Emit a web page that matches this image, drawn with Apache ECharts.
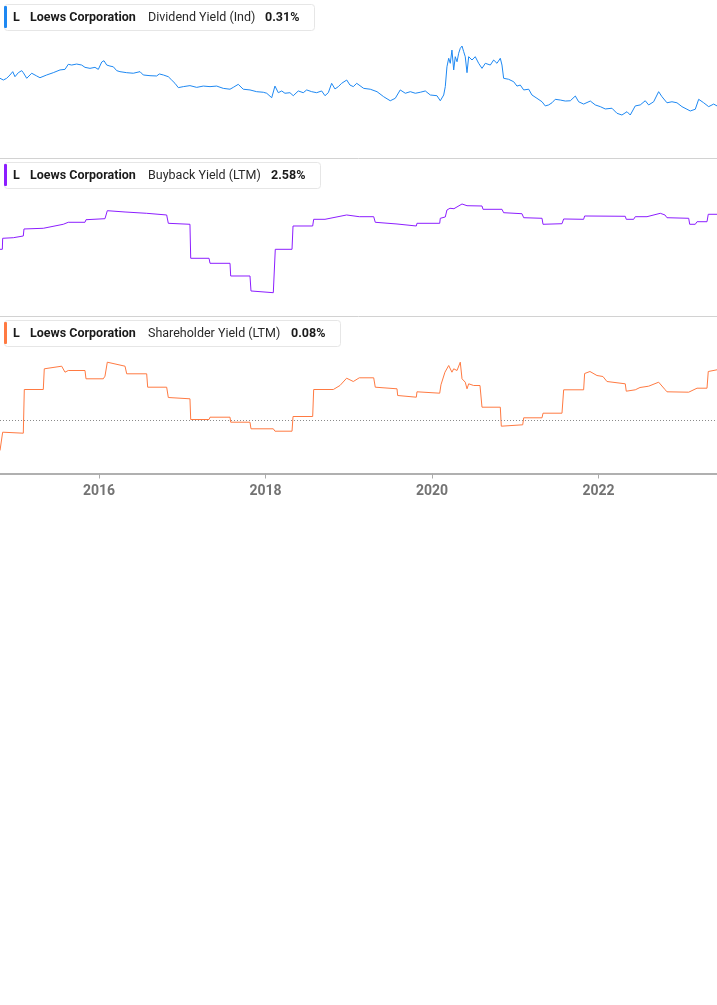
<!DOCTYPE html>
<html>
<head>
<meta charset="utf-8">
<script src="https://cdn.jsdelivr.net/npm/echarts@6/dist/echarts.min.js"></script>
<style>
html,body{margin:0;padding:0;background:#fff;}
#chart{width:717px;height:1005px;}
</style>
</head>
<body>
<div id="chart"></div>
<script>
// ---------- DATA ----------
const xStart = 2014.81, xEnd = 2023.423;
const yearTicks = [2016, 2018, 2020, 2022];

const company = "Loews Corporation";
const ticker = "L";
const metricNames = ["Dividend Yield (Ind)", "Buyback Yield (LTM)", "Shareholder Yield (LTM)"];
const latestValues = ["0.31%", "2.58%", "0.08%"];

const divYears = [2014.810,2014.850,2014.890,2014.930,2014.963,2014.990,2015.030,2015.071,2015.090,2015.131,2015.191,2015.251,2015.290,2015.371,2015.450,2015.531,2015.591,2015.630,2015.671,2015.731,2015.791,2015.831,2015.891,2015.951,2015.991,2016.032,2016.059,2016.092,2016.131,2016.171,2016.212,2016.251,2016.332,2016.411,2016.492,2016.531,2016.612,2016.692,2016.724,2016.772,2016.832,2016.872,2016.912,2016.952,2017.012,2017.092,2017.173,2017.252,2017.333,2017.413,2017.492,2017.573,2017.612,2017.672,2017.732,2017.813,2017.893,2017.973,2018.014,2018.074,2018.113,2018.153,2018.194,2018.233,2018.293,2018.333,2018.393,2018.453,2018.494,2018.554,2018.614,2018.674,2018.714,2018.754,2018.794,2018.834,2018.874,2018.914,2018.975,2019.014,2019.054,2019.095,2019.179,2019.258,2019.339,2019.419,2019.498,2019.558,2019.618,2019.679,2019.739,2019.799,2019.859,2019.919,2019.979,2020.059,2020.099,2020.140,2020.159,2020.179,2020.200,2020.219,2020.239,2020.260,2020.279,2020.300,2020.320,2020.339,2020.360,2020.380,2020.399,2020.420,2020.440,2020.480,2020.519,2020.560,2020.600,2020.640,2020.700,2020.740,2020.780,2020.820,2020.840,2020.860,2020.920,2020.981,2021.020,2021.060,2021.101,2021.161,2021.200,2021.260,2021.321,2021.360,2021.401,2021.441,2021.480,2021.541,2021.601,2021.661,2021.721,2021.761,2021.821,2021.901,2021.961,2022.021,2022.081,2022.161,2022.221,2022.281,2022.342,2022.381,2022.441,2022.501,2022.561,2022.602,2022.662,2022.722,2022.762,2022.822,2022.882,2022.942,2023.002,2023.062,2023.102,2023.162,2023.203,2023.263,2023.323,2023.383,2023.423];
const divValues = [0.498,0.486,0.498,0.521,0.544,0.509,0.537,0.551,0.537,0.498,0.533,0.514,0.502,0.521,0.537,0.556,0.560,0.595,0.590,0.597,0.590,0.574,0.567,0.574,0.560,0.611,0.620,0.590,0.583,0.578,0.551,0.544,0.537,0.533,0.544,0.521,0.516,0.514,0.528,0.521,0.509,0.486,0.463,0.433,0.440,0.447,0.435,0.444,0.440,0.444,0.428,0.422,0.435,0.456,0.422,0.417,0.405,0.401,0.394,0.363,0.444,0.398,0.410,0.394,0.398,0.377,0.410,0.398,0.417,0.405,0.398,0.410,0.377,0.398,0.463,0.424,0.440,0.463,0.486,0.451,0.440,0.463,0.428,0.422,0.405,0.370,0.342,0.359,0.417,0.394,0.405,0.394,0.401,0.410,0.382,0.377,0.342,0.382,0.440,0.578,0.637,0.602,0.694,0.556,0.648,0.613,0.672,0.706,0.722,0.683,0.648,0.537,0.648,0.625,0.648,0.602,0.567,0.602,0.590,0.625,0.602,0.637,0.590,0.498,0.491,0.474,0.444,0.451,0.417,0.422,0.382,0.359,0.335,0.306,0.313,0.328,0.352,0.347,0.340,0.342,0.375,0.335,0.319,0.340,0.313,0.301,0.285,0.290,0.255,0.243,0.266,0.243,0.306,0.313,0.342,0.313,0.335,0.405,0.370,0.328,0.335,0.328,0.301,0.283,0.271,0.283,0.352,0.328,0.301,0.319,0.306];

const buyYears = [2014.810,2014.838,2014.842,2014.970,2015.090,2015.098,2015.330,2015.339,2015.570,2015.591,2015.630,2015.831,2015.843,2016.071,2016.099,2016.312,2016.572,2016.584,2016.812,2016.832,2017.092,2017.101,2017.321,2017.333,2017.573,2017.581,2017.813,2017.825,2018.093,2018.117,2018.318,2018.330,2018.566,2018.578,2018.714,2018.974,2019.126,2019.299,2019.318,2019.579,2019.587,2019.811,2019.819,2020.092,2020.099,2020.159,2020.179,2020.215,2020.263,2020.360,2020.420,2020.600,2020.612,2020.840,2020.860,2021.080,2021.101,2021.321,2021.333,2021.561,2021.581,2021.821,2021.833,2022.321,2022.333,2022.422,2022.441,2022.582,2022.742,2022.798,2022.822,2023.083,2023.095,2023.162,2023.183,2023.303,2023.318,2023.423];
const buyValues = [1.614,1.614,1.917,1.933,1.980,2.173,2.192,2.236,2.302,2.329,2.357,2.357,2.428,2.456,2.676,2.640,2.604,2.558,2.558,2.329,2.302,1.367,1.367,1.229,1.229,0.880,0.880,0.468,0.421,1.614,1.614,2.255,2.255,2.439,2.439,2.558,2.511,2.511,2.357,2.310,2.263,2.255,2.329,2.329,2.467,2.503,2.695,2.742,2.731,2.860,2.813,2.805,2.714,2.714,2.621,2.593,2.483,2.467,2.302,2.318,2.448,2.439,2.530,2.522,2.439,2.439,2.511,2.511,2.604,2.558,2.483,2.467,2.302,2.302,2.373,2.373,2.577,2.577];

const shYears = [2014.810,2014.830,2014.842,2015.090,2015.102,2015.330,2015.342,2015.551,2015.570,2015.591,2015.630,2015.831,2015.843,2016.051,2016.071,2016.099,2016.312,2016.332,2016.572,2016.584,2016.812,2016.832,2017.092,2017.101,2017.321,2017.333,2017.573,2017.581,2017.813,2017.825,2018.093,2018.113,2018.318,2018.330,2018.566,2018.578,2018.814,2018.894,2018.974,2019.054,2019.126,2019.299,2019.318,2019.579,2019.587,2019.811,2019.819,2020.092,2020.107,2020.155,2020.200,2020.239,2020.260,2020.300,2020.339,2020.360,2020.399,2020.420,2020.440,2020.500,2020.576,2020.600,2020.820,2020.832,2021.089,2021.101,2021.321,2021.333,2021.561,2021.581,2021.821,2021.833,2021.897,2021.981,2022.053,2022.101,2022.321,2022.333,2022.441,2022.498,2022.602,2022.722,2022.798,2022.822,2023.083,2023.183,2023.303,2023.318,2023.423];
const shValues = [-1.50,-1.50,-0.585,-0.635,1.55,1.55,2.585,2.715,2.75,2.415,2.50,2.50,2.085,2.085,2.215,2.915,2.715,2.335,2.335,1.665,1.665,1.15,1.085,0.05,0.05,0.165,0.165,-0.085,-0.085,-0.415,-0.415,-0.535,-0.535,0.20,0.20,1.55,1.55,1.75,2.115,1.95,2.135,2.135,1.665,1.585,1.25,1.165,1.435,1.365,1.785,2.415,2.75,2.415,2.585,2.50,2.915,2.085,1.915,1.585,1.835,1.75,1.75,0.665,0.665,-0.285,-0.215,0.135,0.135,0.365,0.365,1.535,1.535,2.35,2.45,2.25,2.20,1.95,1.835,1.465,1.535,1.65,1.715,1.915,1.55,1.435,1.415,1.615,1.615,2.45,2.535];

const colors = ["#1e88f2", "#8c1eff", "#ff7a42"];

// ---------- CHART ----------
const pairs = (xs, ys) => xs.map((x, i) => [x, ys[i]]);
const chart = echarts.init(document.getElementById('chart'), null, {renderer: 'canvas'});

function xAxisDef(idx, visible) {
  return {
    gridIndex: idx, type: 'value', min: xStart, max: xEnd,
    show: visible,
    splitLine: {show: false},
    axisLine: {show: visible, onZero: false, lineStyle: {color: '#b0b0b0', width: 2}},
    axisTick: {show: visible, customValues: yearTicks, length: 5, lineStyle: {color: '#aaaaaa', width: 1}},
    axisLabel: {show: visible, customValues: yearTicks, margin: 11,
      formatter: v => String(Math.round(v)),
      color: '#737373', fontSize: 14, fontWeight: 'bold',
      fontFamily: 'Roboto, sans-serif'}
  };
}
function yAxisDef(idx, mn, mx) {
  return {gridIndex: idx, type: 'value', min: mn, max: mx, show: false, splitLine: {show: false}};
}

const legendBoxes = [];
const boxTops = [4, 162, 320];
const boxWidths = [310, 316, 336];
const valueX = [265, 271, 291];
const FONT_B = 'bold 12.5px Roboto, "Open Sans", sans-serif';
const FONT_R = '12.5px Roboto, "Open Sans", sans-serif';
for (let i = 0; i < 3; i++) {
  const t = boxTops[i];
  legendBoxes.push(
    {type: 'rect', left: 4, top: t, shape: {width: boxWidths[i], height: 26, r: 3},
     style: {fill: '#ffffff', stroke: '#e6e6e6', lineWidth: 1}, z: 10},
    {type: 'rect', left: 4, top: t + 2, shape: {width: 3, height: 22, r: 1},
     style: {fill: colors[i]}, z: 11},
    {type: 'text', left: 13, top: t + 7, style: {text: ticker, fill: '#1a1a1a', font: FONT_B}, z: 11},
    {type: 'text', left: 30, top: t + 7, style: {text: company, fill: '#1a1a1a', font: FONT_B}, z: 11},
    {type: 'text', left: 148, top: t + 7, style: {text: metricNames[i], fill: '#2a2a2a', font: FONT_R}, z: 11},
    {type: 'text', left: valueX[i], top: t + 7, style: {text: latestValues[i], fill: '#1a1a1a', font: FONT_B}, z: 11}
  );
}

const option = {
  animation: false,
  backgroundColor: '#ffffff',
  grid: [
    {left: 0, right: 0, top: 6, height: 144},
    {left: 0, right: 0, top: 177.09, height: 130.91},
    {left: 0, right: 0, top: 340.5, height: 133}
  ],
  xAxis: [xAxisDef(0, false), xAxisDef(1, false), xAxisDef(2, true)],
  yAxis: [yAxisDef(0, 0, 1.0), yAxisDef(1, 0, 3.6), yAxisDef(2, -2.65, 4.0)],
  series: [
    {type: 'line', xAxisIndex: 0, yAxisIndex: 0, data: pairs(divYears, divValues), showSymbol: false,
     lineStyle: {color: colors[0], width: 1}, itemStyle: {color: colors[0]}},
    {type: 'line', xAxisIndex: 1, yAxisIndex: 1, data: pairs(buyYears, buyValues), showSymbol: false,
     lineStyle: {color: colors[1], width: 1}, itemStyle: {color: colors[1]}},
    {type: 'line', xAxisIndex: 2, yAxisIndex: 2, data: pairs(shYears, shValues), showSymbol: false,
     lineStyle: {color: colors[2], width: 1}, itemStyle: {color: colors[2]},
     markLine: {silent: true, symbol: 'none', label: {show: false},
       lineStyle: {color: '#8a8a8a', type: [1, 2], width: 1},
       data: [{yAxis: 0}]}}
  ],
  graphic: [
    {type: 'line', shape: {x1: 0, y1: 158.5, x2: 717, y2: 158.5}, style: {stroke: '#d2d2d2', lineWidth: 1}},
    {type: 'line', shape: {x1: 0, y1: 316.5, x2: 717, y2: 316.5}, style: {stroke: '#d2d2d2', lineWidth: 1}},
    ...legendBoxes
  ]
};
chart.setOption(option);
</script>
</body>
</html>
